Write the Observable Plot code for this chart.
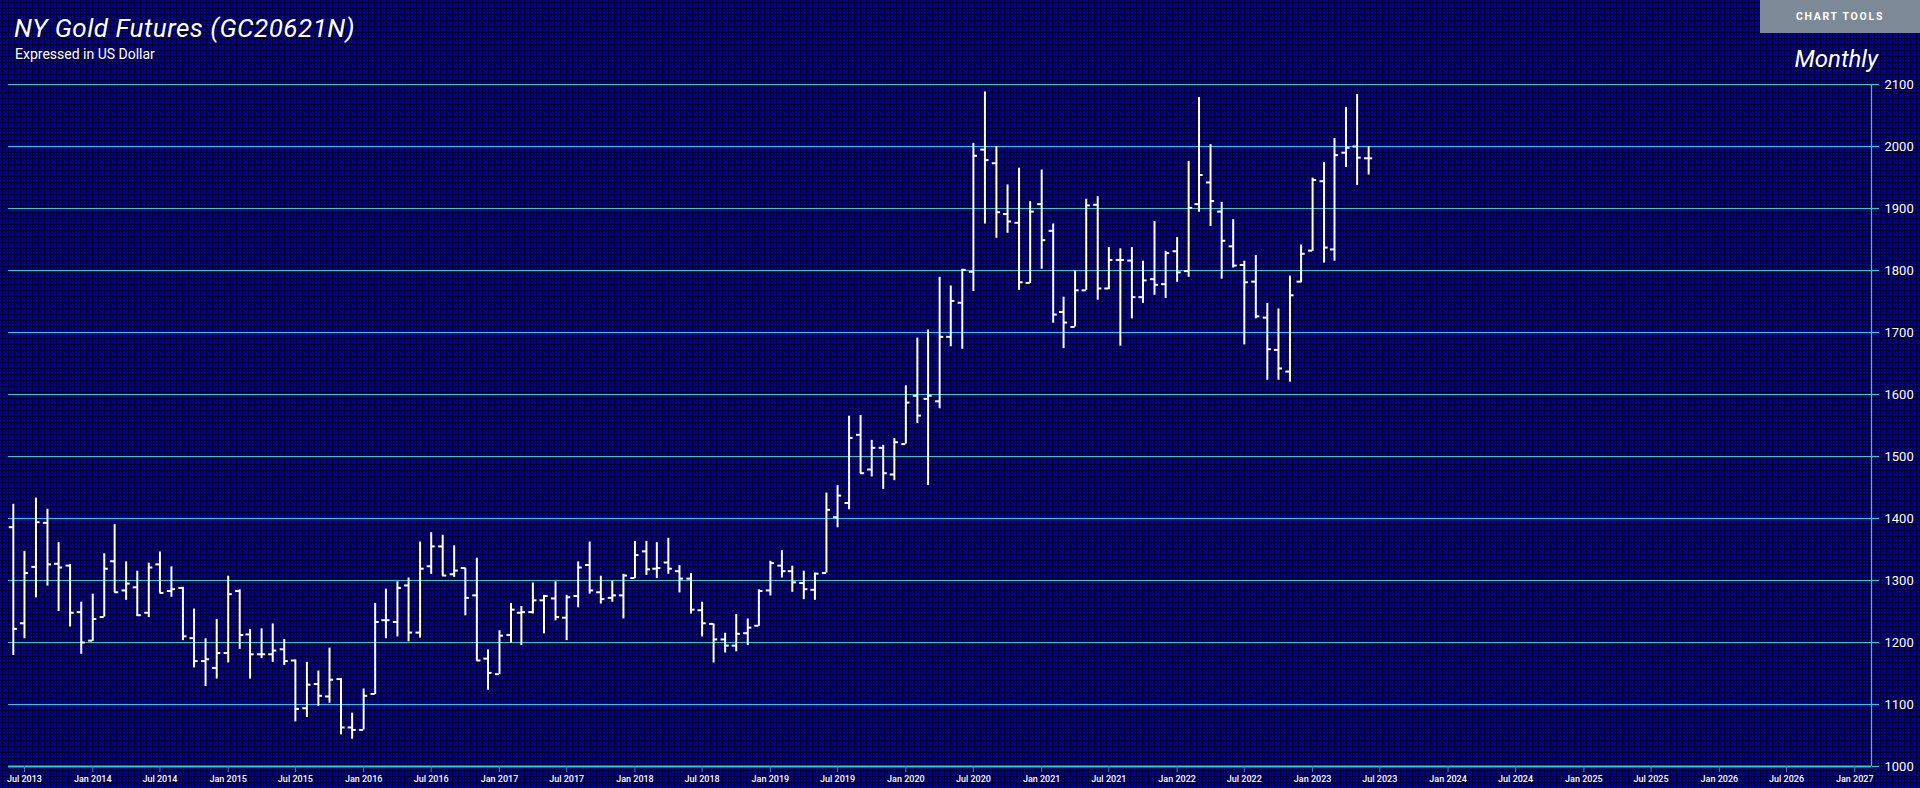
<!DOCTYPE html>
<html>
<head>
<meta charset="utf-8">
<script src="https://cdn.jsdelivr.net/npm/d3@7"></script>
<script src="https://cdn.jsdelivr.net/npm/@observablehq/plot@0.6"></script>
<style>
html, body { margin: 0; padding: 0; }
body {
  width: 1920px; height: 788px; overflow: hidden; position: relative;
  font-family: Roboto, "Noto Sans", sans-serif;
  background-color: #000080;
  background-image:
    repeating-linear-gradient(90deg, rgba(0,0,0,0) 0 2px, rgba(0,0,24,0.95) 2px 3px),
    repeating-linear-gradient(0deg, #0000a6 0 2px, #000018 2px 3px);
}
#chart { position: absolute; left: 0; top: 0; }
#title { position: absolute; left: 14px; top: 15px; font-size: 26px; letter-spacing: 0.5px; line-height: 1; font-style: italic; color: #fff; z-index: 2; white-space: nowrap; }
#subtitle { position: absolute; left: 15px; top: 47px; font-size: 14px; line-height: 1; color: #fff; z-index: 2; white-space: nowrap; }
#period { position: absolute; right: 42px; top: 47px; font-size: 24px; line-height: 1; font-style: italic; color: #fff; z-index: 2; }
#tools { position: absolute; left: 1760px; top: 0; width: 160px; height: 33px; background: #7b8a96; color: #fff; z-index: 2;
  font-size: 10.5px; font-weight: bold; letter-spacing: 1.7px; display: flex; align-items: center; justify-content: center; }
</style>
</head>
<body>
<div id="title">NY Gold Futures (GC20621N)</div>
<div id="subtitle">Expressed in US Dollar</div>
<div id="period">Monthly</div>
<div id="tools">CHART TOOLS</div>
<div id="chart"></div>
<script>
// Monthly OHLC bars, Jun 2013 – Jun 2023
const months = [
  "2013-06","2013-07","2013-08","2013-09","2013-10","2013-11","2013-12",
  "2014-01","2014-02","2014-03","2014-04","2014-05","2014-06","2014-07","2014-08","2014-09","2014-10","2014-11","2014-12",
  "2015-01","2015-02","2015-03","2015-04","2015-05","2015-06","2015-07","2015-08","2015-09","2015-10","2015-11","2015-12",
  "2016-01","2016-02","2016-03","2016-04","2016-05","2016-06","2016-07","2016-08","2016-09","2016-10","2016-11","2016-12",
  "2017-01","2017-02","2017-03","2017-04","2017-05","2017-06","2017-07","2017-08","2017-09","2017-10","2017-11","2017-12",
  "2018-01","2018-02","2018-03","2018-04","2018-05","2018-06","2018-07","2018-08","2018-09","2018-10","2018-11","2018-12",
  "2019-01","2019-02","2019-03","2019-04","2019-05","2019-06","2019-07","2019-08","2019-09","2019-10","2019-11","2019-12",
  "2020-01","2020-02","2020-03","2020-04","2020-05","2020-06","2020-07","2020-08","2020-09","2020-10","2020-11","2020-12",
  "2021-01","2021-02","2021-03","2021-04","2021-05","2021-06","2021-07","2021-08","2021-09","2021-10","2021-11","2021-12",
  "2022-01","2022-02","2022-03","2022-04","2022-05","2022-06","2022-07","2022-08","2022-09","2022-10","2022-11","2022-12",
  "2023-01","2023-02","2023-03","2023-04","2023-05","2023-06"
];
const opens = [
  1386,1231,1322,1393,1327,1324,1249,
  1203,1241,1331,1284,1289,1248,1326,1283,1288,1207,1170,1159,
  1183,1283,1213,1181,1181,1189,1171,1094,1133,1113,1141,1063,
  1059,1117,1236,1233,1292,1216,1323,1355,1310,1320,1276,1174,
  1149,1212,1248,1249,1268,1271,1240,1275,1325,1281,1272,1276,
  1304,1347,1319,1329,1315,1303,1252,1230,1205,1195,1215,1227,
  1284,1324,1315,1296,1285,1312,1402,1425,1535,1479,1514,1471,
  1520,1598,1593,1589,1693,1748,1798,1995,1973,1891,1877,1780,
  1907,1864,1733,1709,1768,1906,1771,1817,1816,1757,1786,1778,
  1831,1799,1907,1942,1895,1839,1809,1782,1724,1672,1637,1782,
  1832,1944,1834,1990,2000,1981
];
const highs = [
  1423,1347,1433,1415,1361,1326,1265,
  1278,1343,1390,1330,1315,1328,1346,1322,1289,1254,1206,1237,
  1307,1285,1221,1222,1230,1205,1172,1168,1154,1191,1142,1086,
  1125,1263,1286,1298,1304,1362,1377,1373,1356,1320,1336,1188,
  1219,1263,1258,1296,1276,1298,1276,1330,1362,1307,1299,1310,
  1363,1363,1361,1368,1324,1311,1265,1230,1215,1245,1238,1285,
  1331,1348,1323,1315,1312,1441,1453,1565,1566,1526,1518,1529,
  1614,1691,1704,1789,1775,1802,2005,2088,2000,1938,1965,1911,
  1962,1875,1757,1799,1915,1919,1837,1835,1837,1815,1879,1831,
  1853,1976,2079,2003,1910,1882,1815,1824,1747,1738,1791,1841,
  1949,1974,2013,2063,2084,2000
];
const lows = [
  1179,1206,1272,1291,1250,1225,1181,
  1202,1241,1281,1268,1242,1240,1280,1273,1203,1159,1129,1141,
  1167,1189,1141,1174,1168,1163,1072,1079,1097,1102,1051,1044,
  1059,1116,1206,1209,1201,1207,1310,1307,1305,1243,1170,1123,
  1148,1199,1195,1246,1214,1235,1203,1256,1278,1262,1265,1238,
  1303,1308,1303,1310,1280,1246,1209,1167,1183,1185,1195,1226,
  1275,1304,1281,1269,1268,1312,1385,1414,1472,1467,1447,1461,
  1520,1553,1453,1577,1677,1673,1766,1875,1852,1860,1768,1779,
  1802,1715,1674,1709,1768,1752,1769,1678,1722,1747,1760,1755,
  1781,1789,1894,1871,1786,1804,1680,1722,1623,1623,1620,1780,
  1831,1812,1815,1966,1937,1954
];
const closes = [
  1222,1312,1394,1326,1321,1248,1200,
  1238,1319,1281,1295,1244,1321,1280,1286,1210,1170,1173,1183,
  1278,1212,1181,1181,1187,1170,1093,1132,1114,1140,1063,1059,
  1114,1233,1236,1288,1216,1319,1355,1308,1316,1272,1171,1151,
  1211,1253,1249,1268,1275,1241,1273,1321,1284,1270,1276,1308,
  1341,1318,1320,1319,1303,1253,1231,1205,1195,1214,1224,1283,
  1328,1315,1297,1286,1311,1414,1437,1530,1473,1514,1473,1523,
  1587,1566,1598,1693,1751,1801,1985,1978,1894,1879,1781,1895,
  1849,1729,1716,1768,1905,1771,1817,1817,1757,1784,1777,1828,
  1797,1901,1954,1912,1848,1808,1781,1726,1673,1642,1760,1827,
  1946,1837,1986,1998,1982,1981
];
const xTickMonths = [
  "2013-07","2014-01","2014-07","2015-01","2015-07","2016-01","2016-07","2017-01","2017-07",
  "2018-01","2018-07","2019-01","2019-07","2020-01","2020-07","2021-01","2021-07","2022-01",
  "2022-07","2023-01","2023-07","2024-01","2024-07","2025-01","2025-07","2026-01","2026-07","2027-01"
];
const yTicks = [1000,1100,1200,1300,1400,1500,1600,1700,1800,1900,2000,2100];
const xDomainDays = ["2013-05-19","2027-02-15"];

const parseM = d3.utcParse("%Y-%m");
const parseD = d3.utcParse("%Y-%m-%d");
const bars = months.map((m, i) => ({
  date: parseM(m), open: opens[i], high: highs[i], low: lows[i], close: closes[i]
}));
const xTicks = xTickMonths.map(parseM);
const xDomain = xDomainDays.map(parseD);

const grid = "#22cfe0";
const fmt = d3.utcFormat("%b %Y");

const chart = Plot.plot({
  width: 1920,
  height: 788,
  marginLeft: 8,
  marginRight: 49,
  marginTop: 84,
  marginBottom: 22,
  style: { background: "transparent", color: "#fff", fontFamily: "Roboto, sans-serif", overflow: "visible" },
  x: { type: "utc", domain: xDomain },
  y: { domain: [1000, 2100] },
  marks: [
    Plot.gridY(yTicks, { stroke: grid, strokeOpacity: 1, strokeWidth: 1.2 }),
    Plot.ruleX([xDomain[1]], { stroke: grid, strokeWidth: 1.2 }),
    Plot.ruleY([1000], { stroke: grid, strokeWidth: 2 }),
    Plot.axisY(yTicks, {
      anchor: "right", tickSize: 7, tickPadding: 6, stroke: grid, strokeWidth: 1.2,
      fill: "#fff", fontSize: 13, label: null, tickFormat: d => String(d)
    }),
    Plot.axisX(xTicks, {
      anchor: "bottom", tickSize: 6, tickPadding: 3, stroke: "#5a78c8",
      fill: "#fff", fontSize: 9, fontWeight: 500, tickFormat: fmt, label: null
    }),
    Plot.ruleX(bars, { x: "date", y1: "low", y2: "high", stroke: "#fff", strokeWidth: 2 }),
    Plot.ruleY(bars, { x1: d => d3.utcDay.offset(d.date, -11), x2: "date", y: "open", stroke: "#fff", strokeWidth: 2 }),
    Plot.ruleY(bars, { x1: "date", x2: d => d3.utcDay.offset(d.date, 11), y: "close", stroke: "#fff", strokeWidth: 2 })
  ]
});
document.getElementById("chart").appendChild(chart);
</script>
</body>
</html>
